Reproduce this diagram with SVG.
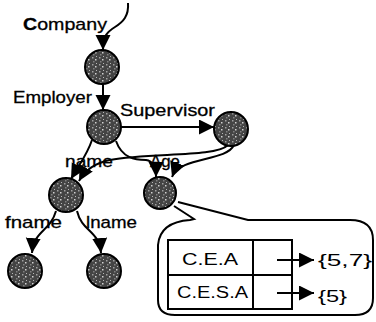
<svg xmlns="http://www.w3.org/2000/svg" width="376" height="322" viewBox="0 0 376 322">
<style>
.e{fill:none;stroke:#000;stroke-width:2}
.n{fill:url(#tex);stroke:#000;stroke-width:2}
.t{font-family:"Liberation Sans",Arial,sans-serif;font-size:17px;fill:#000;stroke:#000;stroke-width:0.3}
.s{font-size:16px;stroke:none}
.b{stroke:none}
</style>
<defs>
<pattern id="tex" width="7" height="7" patternUnits="userSpaceOnUse">
<rect width="7" height="7" fill="#444"/>
<rect x="1" y="1" width="1.5" height="1.5" fill="#a0a0a0"/>
<rect x="4" y="3" width="1.5" height="1.5" fill="#d0d0d0"/>
<rect x="2" y="5" width="1.5" height="1.5" fill="#808080"/>
<rect x="5" y="0" width="1" height="1" fill="#b8b8b8"/>
</pattern>
<marker id="ah" markerWidth="16" markerHeight="16" refX="15" refY="7.5" orient="auto" markerUnits="userSpaceOnUse">
<path d="M0,0 L15,7.5 L0,15 z" fill="#000"/>
</marker>
</defs>
<rect width="376" height="322" fill="#fff"/>
<g id="connectors">
<path class="e" d="M128,3 C129,16 123,22 115,27 C107,32 103,36 103,50" marker-end="url(#ah)"/>
<path class="e" d="M103,84 L103,110" marker-end="url(#ah)"/>
<path class="e" d="M121,127 L214,127" marker-end="url(#ah)"/>
<path class="e" d="M92,140 C87,155 80,163 71,179" marker-end="url(#ah)"/>
<path class="e" d="M228,145 C215,158 150,152 110,160 C95,163 85,170 79,181" marker-end="url(#ah)"/>
<path class="e" d="M234,145 C226,162 180,156 172,177" marker-end="url(#ah)"/>
<path class="e" d="M116,141 C122,158 135,160 146,160 C154,161 156,168 156,177" marker-end="url(#ah)"/>
<path class="e" d="M56,211 C50,232 34,230 32,253" marker-end="url(#ah)"/>
<path class="e" d="M77,211 C82,232 99,230 101,253" marker-end="url(#ah)"/>
<path class="e" d="M277,260 L314,260" marker-end="url(#ah)"/>
<path class="e" d="M277,293 L314,293" marker-end="url(#ah)"/>
</g>
<g id="callout">
<path class="e" d="M174,206 L194,219 L190,220 Q160,222 158,245 L158,300 Q158,315 175,315 L355,315 Q373,315 373,298 L373,240 Q373,220 350,220 L248,220 L178,202"/>
<rect x="168" y="240" width="124" height="69" fill="none" stroke="#000" stroke-width="2"/>
<line x1="168" y1="275" x2="292" y2="275" stroke="#000" stroke-width="2"/>
<line x1="253" y1="240" x2="253" y2="309" stroke="#000" stroke-width="2"/>
<text class="t s" x="182" y="265" textLength="56" lengthAdjust="spacingAndGlyphs">C.E.A</text>
<text class="t s" x="177" y="298" textLength="71" lengthAdjust="spacingAndGlyphs">C.E.S.A</text>
<text class="t b" x="318" y="266" textLength="54" lengthAdjust="spacingAndGlyphs">{5,7}</text>
<text class="t b" x="318" y="302" textLength="29" lengthAdjust="spacingAndGlyphs">{5}</text>
</g>
<g id="company"><circle class="n" cx="102" cy="67" r="17"/></g>
<g id="employer"><circle class="n" cx="104" cy="127" r="17"/></g>
<g id="supervisor"><circle class="n" cx="231" cy="129" r="17"/></g>
<g id="name"><circle class="n" cx="66" cy="195" r="17"/></g>
<g id="age"><circle class="n" cx="160" cy="193" r="16"/></g>
<g id="fname"><circle class="n" cx="25" cy="271" r="17"/></g>
<g id="lname"><circle class="n" cx="104" cy="271" r="17"/></g>
<g id="labels">
<text class="t" x="23" y="30" textLength="84" lengthAdjust="spacingAndGlyphs"><tspan font-weight="bold">C</tspan>ompany</text>
<text class="t" x="13" y="103" textLength="79" lengthAdjust="spacingAndGlyphs">Employer</text>
<text class="t" x="120" y="116" textLength="95" lengthAdjust="spacingAndGlyphs">Supervisor</text>
<text class="t" x="65" y="167" textLength="48" lengthAdjust="spacingAndGlyphs">name</text>
<text class="t" x="150" y="167" textLength="30" lengthAdjust="spacingAndGlyphs">Age</text>
<text class="t" x="5" y="228" textLength="57" lengthAdjust="spacingAndGlyphs">fname</text>
<text class="t" x="86" y="228" textLength="51" lengthAdjust="spacingAndGlyphs">lname</text>
</g>
</svg>
